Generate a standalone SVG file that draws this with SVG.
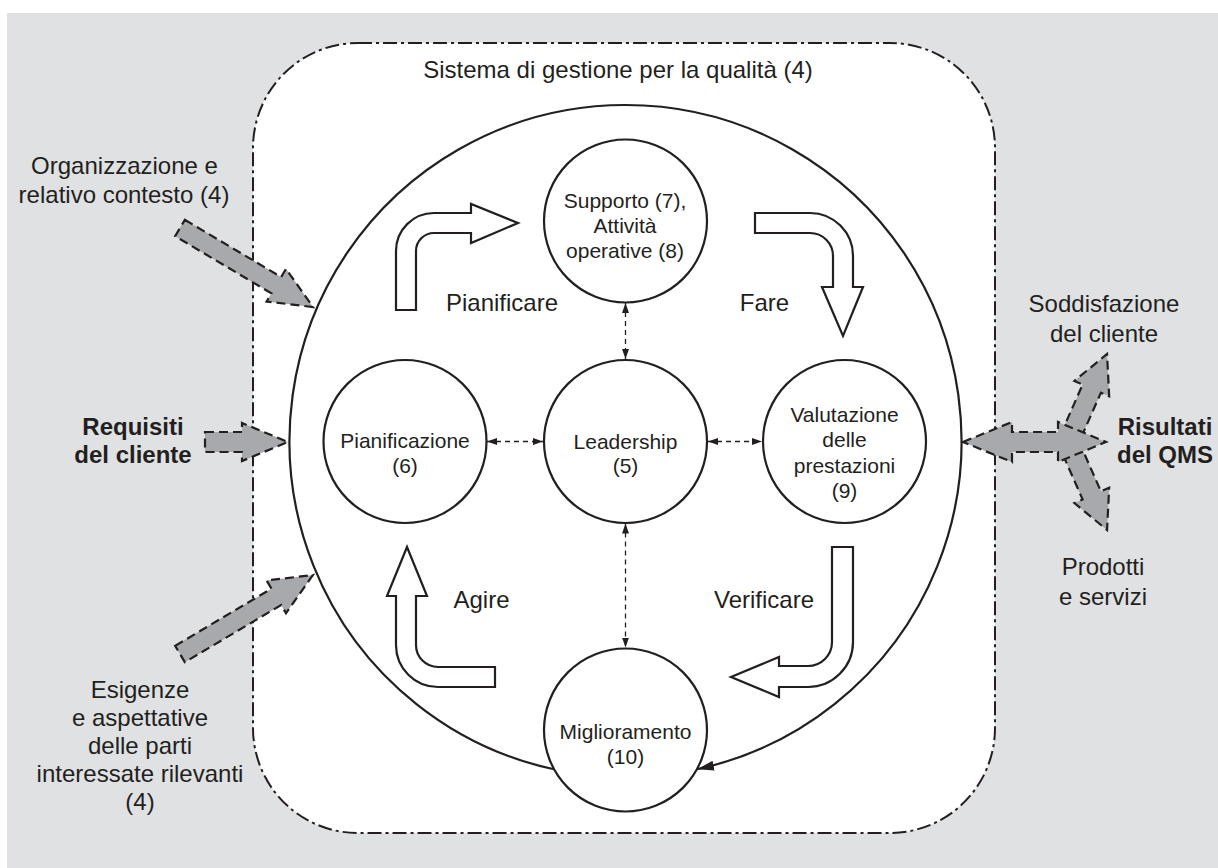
<svg xmlns="http://www.w3.org/2000/svg" width="1218" height="868" viewBox="0 0 1218 868">
<defs>
<style>
.t{font-family:"Liberation Sans",Arial,Helvetica,sans-serif;fill:#231f20;text-anchor:middle}
.lab{font-size:24px}
.b{font-weight:bold}
.ct{font-size:21px}
.frame{fill:#fff;stroke:#231f20;stroke-width:2;stroke-dasharray:14 4 3 4}
.big{fill:none;stroke:#231f20;stroke-width:2.2}
.node{fill:#fff;stroke:#231f20;stroke-width:2.2}
.flow{fill:#fff;stroke:#231f20;stroke-width:2.2;stroke-linejoin:miter}
.io{fill:#a7a9ac;stroke:#231f20;stroke-width:2.2;stroke-dasharray:9 5}
.link{fill:none;stroke:#231f20;stroke-width:1.3;stroke-dasharray:5 4}
</style>
<marker id="sm" markerUnits="userSpaceOnUse" markerWidth="11" markerHeight="8" refX="10" refY="4" orient="auto-start-reverse" viewBox="0 0 11 8">
<path d="M0,0.5 L10,4 L0,7.5 z" fill="#231f20"/>
</marker>
<marker id="bg" markerUnits="userSpaceOnUse" markerWidth="18" markerHeight="11" refX="17" refY="5.5" orient="auto" viewBox="0 0 18 11">
<path d="M0,0.5 L17,5.5 L0,10.5 z" fill="#231f20"/>
</marker>
</defs>
<rect x="7" y="13" width="1211" height="855" fill="#e0e1e3"/>
<g id="sistema">
<rect class="frame" x="253" y="43" width="742" height="790" rx="105" ry="105"/>
<text class="t lab" x="618" y="78">Sistema di gestione per la qualità (4)</text>
</g>
<g id="connectors">
<path class="big" d="M554,769.3 A336,336 0 1 1 697,769.3" marker-end="url(#bg)"/>
<line class="link" x1="487" y1="441.5" x2="543" y2="441.5" marker-start="url(#sm)" marker-end="url(#sm)"/>
<line class="link" x1="708" y1="441.5" x2="762" y2="441.5" marker-start="url(#sm)" marker-end="url(#sm)"/>
<line class="link" x1="625.5" y1="303" x2="625.5" y2="359" marker-start="url(#sm)" marker-end="url(#sm)"/>
<line class="link" x1="625.5" y1="523.5" x2="625.5" y2="647.5" marker-start="url(#sm)" marker-end="url(#sm)"/>
</g>
<g id="cycle-arrows">
<path id="arr-pianificare" class="flow" d="M396,310 V251 A38,38 0 0 1 434,213 H471 V204 L518,223 L471,243 V233 H434 A18,18 0 0 0 416,251 V310 Z"/>
<path id="arr-fare" class="flow" d="M755,213 H810 A43,43 0 0 1 853,256 V287 H863 L843,336 L822,287 H833 V256 A23,23 0 0 0 810,233 H755 Z"/>
<path id="arr-agire" class="flow" d="M407,547 L427,596 H416 V645 A22,22 0 0 0 438,667 H495 V687 H438 A42,42 0 0 1 396,645 V596 H387 Z"/>
<path id="arr-verificare" class="flow" d="M832,547 H853 V642 A45,45 0 0 1 808,687 H779 V697 L731,677 L779,657 V666 H808 A24,24 0 0 0 832,642 Z"/>
<text class="t lab" x="502" y="311">Pianificare</text>
<text class="t lab" x="764.5" y="311">Fare</text>
<text class="t lab" x="481.5" y="608">Agire</text>
<text class="t lab" x="764" y="608">Verificare</text>
</g>
<g id="supporto">
<circle class="node" cx="625.5" cy="221" r="81.5"/>
<text class="t ct" x="625" y="208">Supporto (7),</text>
<text class="t ct" x="625" y="233">Attività</text>
<text class="t ct" x="625" y="258">operative (8)</text>
</g>
<g id="pianificazione">
<circle class="node" cx="405" cy="441.5" r="81.5"/>
<text class="t ct" x="405" y="448">Pianificazione</text>
<text class="t ct" x="405" y="473">(6)</text>
</g>
<g id="leadership">
<circle class="node" cx="625.5" cy="441.5" r="81.5"/>
<text class="t ct" x="625.5" y="449">Leadership</text>
<text class="t ct" x="625.5" y="473">(5)</text>
</g>
<g id="valutazione">
<circle class="node" cx="844.5" cy="441.5" r="81.5"/>
<text class="t ct" x="844.5" y="422">Valutazione</text>
<text class="t ct" x="844.5" y="447">delle</text>
<text class="t ct" x="844.5" y="473">prestazioni</text>
<text class="t ct" x="844.5" y="498">(9)</text>
</g>
<g id="miglioramento">
<circle class="node" cx="625.5" cy="730" r="81.5"/>
<text class="t ct" x="625.5" y="739">Miglioramento</text>
<text class="t ct" x="625.5" y="764">(10)</text>
</g>
<g id="organizzazione">
<polygon class="io" transform="translate(180,228) rotate(30.71)" points="0,-9.5 112,-9.5 112,-19 154.7,0 112,19 112,9.5 0,9.5"/>
<text class="t lab" x="124.5" y="174">Organizzazione e</text>
<text class="t lab" x="124" y="203">relativo contesto (4)</text>
</g>
<g id="requisiti">
<polygon class="io" points="205,432 242,432 242,423 288,442 242,461 242,452 205,452"/>
<text class="t lab b" x="133" y="435">Requisiti</text>
<text class="t lab b" x="133" y="463">del cliente</text>
</g>
<g id="esigenze">
<polygon class="io" transform="translate(180,654) rotate(-30.71)" points="0,-9.5 112,-9.5 112,-19 154.7,0 112,19 112,9.5 0,9.5"/>
<text class="t lab" x="140" y="698">Esigenze</text>
<text class="t lab" x="140" y="726">e aspettative</text>
<text class="t lab" x="140" y="754">delle parti</text>
<text class="t lab" x="140" y="782">interessate rilevanti</text>
<text class="t lab" x="140" y="810">(4)</text>
</g>
<g id="risultati">
<polygon class="io" transform="translate(1070,438) rotate(-66.2)" points="0,-10 54,-10 54,-19 91.8,0 54,19 54,10 0,10"/>
<polygon class="io" transform="translate(1070,446) rotate(66.2)" points="0,-10 54,-10 54,-19 91.8,0 54,19 54,10 0,10"/>
<polygon class="io" points="963,442 1012,422 1012,432 1058,432 1058,422 1106,442 1058,462 1058,452 1012,452 1012,462"/>
<text class="t lab" x="1104" y="312">Soddisfazione</text>
<text class="t lab" x="1104" y="342">del cliente</text>
<text class="t lab b" x="1165" y="435">Risultati</text>
<text class="t lab b" x="1165" y="463">del QMS</text>
<text class="t lab" x="1103" y="575">Prodotti</text>
<text class="t lab" x="1103" y="605">e servizi</text>
</g>
</svg>
